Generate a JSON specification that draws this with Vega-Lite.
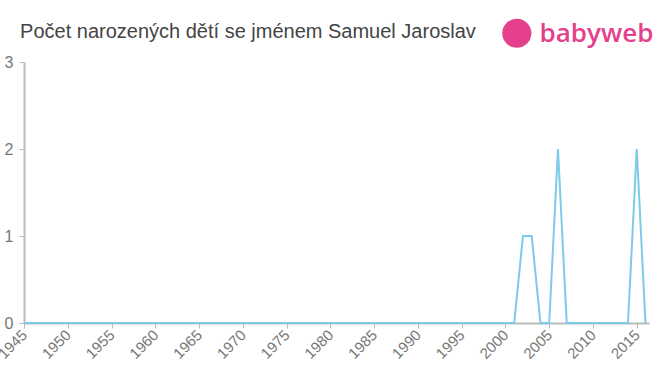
{
  "$schema": "https://vega.github.io/schema/vega-lite/v6.json",
  "width": 625,
  "height": 261,
  "autosize": "none",
  "padding": {"left": 24, "top": 62, "right": 11, "bottom": 52},
  "background": "white",
  "config": {
    "font": "Liberation Sans",
    "view": {"stroke": null}
  },
  "layer": [
    {
      "data": {
        "values": [
          {"year": 1945, "count": 0}, {"year": 1946, "count": 0}, {"year": 1947, "count": 0}, {"year": 1948, "count": 0},
          {"year": 1949, "count": 0}, {"year": 1950, "count": 0}, {"year": 1951, "count": 0}, {"year": 1952, "count": 0},
          {"year": 1953, "count": 0}, {"year": 1954, "count": 0}, {"year": 1955, "count": 0}, {"year": 1956, "count": 0},
          {"year": 1957, "count": 0}, {"year": 1958, "count": 0}, {"year": 1959, "count": 0}, {"year": 1960, "count": 0},
          {"year": 1961, "count": 0}, {"year": 1962, "count": 0}, {"year": 1963, "count": 0}, {"year": 1964, "count": 0},
          {"year": 1965, "count": 0}, {"year": 1966, "count": 0}, {"year": 1967, "count": 0}, {"year": 1968, "count": 0},
          {"year": 1969, "count": 0}, {"year": 1970, "count": 0}, {"year": 1971, "count": 0}, {"year": 1972, "count": 0},
          {"year": 1973, "count": 0}, {"year": 1974, "count": 0}, {"year": 1975, "count": 0}, {"year": 1976, "count": 0},
          {"year": 1977, "count": 0}, {"year": 1978, "count": 0}, {"year": 1979, "count": 0}, {"year": 1980, "count": 0},
          {"year": 1981, "count": 0}, {"year": 1982, "count": 0}, {"year": 1983, "count": 0}, {"year": 1984, "count": 0},
          {"year": 1985, "count": 0}, {"year": 1986, "count": 0}, {"year": 1987, "count": 0}, {"year": 1988, "count": 0},
          {"year": 1989, "count": 0}, {"year": 1990, "count": 0}, {"year": 1991, "count": 0}, {"year": 1992, "count": 0},
          {"year": 1993, "count": 0}, {"year": 1994, "count": 0}, {"year": 1995, "count": 0}, {"year": 1996, "count": 0},
          {"year": 1997, "count": 0}, {"year": 1998, "count": 0}, {"year": 1999, "count": 0}, {"year": 2000, "count": 0},
          {"year": 2001, "count": 0}, {"year": 2002, "count": 1}, {"year": 2003, "count": 1}, {"year": 2004, "count": 0},
          {"year": 2005, "count": 0}, {"year": 2006, "count": 2}, {"year": 2007, "count": 0}, {"year": 2008, "count": 0},
          {"year": 2009, "count": 0}, {"year": 2010, "count": 0}, {"year": 2011, "count": 0}, {"year": 2012, "count": 0},
          {"year": 2013, "count": 0}, {"year": 2014, "count": 0}, {"year": 2015, "count": 2}, {"year": 2016, "count": 0}
        ]
      },
      "mark": {"type": "line", "color": "#7ccbea", "strokeWidth": 2, "clip": false},
      "encoding": {
        "x": {
          "field": "year",
          "type": "quantitative",
          "scale": {"domain": [1945, 2016.4], "nice": false, "zero": false},
          "axis": {
            "title": null,
            "values": [1945, 1950, 1955, 1960, 1965, 1970, 1975, 1980, 1985, 1990, 1995, 2000, 2005, 2010, 2015],
            "format": "d",
            "labelAngle": -45,
            "labelAlign": "right",
            "labelBaseline": "middle",
            "labelFontSize": 15,
            "labelColor": "#777777",
            "labelPadding": 4,
            "labelFont": "Liberation Sans",
            "domainColor": "#bbbbbb",
            "domainWidth": 2,
            "tickColor": "#bbbbbb",
            "tickSize": 5,
            "tickWidth": 1,
            "grid": false,
            "labelOverlap": false,
            "labelBound": false,
            "labelFlush": false
          }
        },
        "y": {
          "field": "count",
          "type": "quantitative",
          "scale": {"domain": [0, 3], "nice": false},
          "axis": {
            "title": null,
            "values": [0, 1, 2, 3],
            "format": "d",
            "labelFontSize": 16,
            "labelColor": "#777777",
            "labelPadding": 6,
            "labelFont": "Liberation Sans",
            "domainColor": "#bbbbbb",
            "domainWidth": 2,
            "tickColor": "#bbbbbb",
            "tickSize": 5,
            "grid": false
          }
        }
      }
    },
    {
      "data": {"values": [{"label": "Počet narozených dětí se jménem Samuel Jaroslav"}]},
      "mark": {"type": "text", "color": "#444444", "fontSize": 20, "font": "Liberation Sans", "align": "left", "baseline": "alphabetic", "clip": false},
      "encoding": {
        "text": {"field": "label"},
        "x": {"datum": 1944.55, "type": "quantitative"},
        "y": {"datum": 3.276, "type": "quantitative"}
      }
    },
    {
      "data": {"values": [{"logo": "babyweb"}]},
      "mark": {"type": "point", "filled": true, "shape": "circle", "color": "#e5408b", "opacity": 1, "size": 850, "clip": false},
      "encoding": {
        "x": {"datum": 2001.3, "type": "quantitative"},
        "y": {"datum": 3.33, "type": "quantitative"}
      }
    },
    {
      "data": {"values": [{"logo": "babyweb"}]},
      "mark": {"type": "text", "color": "#e5408b", "fontSize": 26, "fontWeight": 600, "font": "Open Sans", "align": "left", "baseline": "alphabetic", "clip": false},
      "encoding": {
        "text": {"field": "logo"},
        "x": {"datum": 2003.9, "type": "quantitative"},
        "y": {"datum": 3.23, "type": "quantitative"}
      }
    }
  ]
}
